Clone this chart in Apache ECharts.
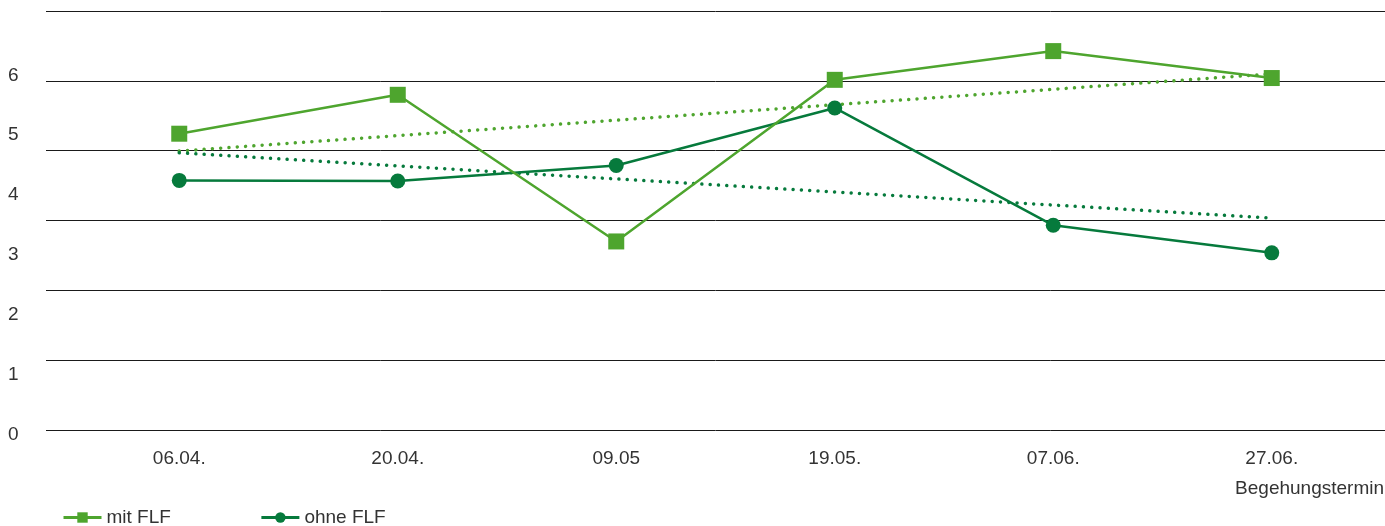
<!DOCTYPE html>
<html>
<head>
<meta charset="utf-8">
<script src="https://cdn.jsdelivr.net/npm/echarts@6/dist/echarts.min.js"></script>
<style>
html,body{margin:0;padding:0;background:#fff;}
#chart{width:1385px;height:526px;}
</style>
</head>
<body>
<div id="chart"></div>
<script>
const categories = ['06.04.', '20.04.', '09.05', '19.05.', '07.06.', '27.06.'];
const mitFLF = [4.95, 5.60, 3.15, 5.85, 6.33, 5.88];
const ohneFLF = [4.17, 4.16, 4.42, 5.38, 3.42, 2.96];
const trendMit = [[0, 4.66], [5, 5.95]];
const trendOhne = [[0, 4.63], [5, 3.54]];
const yLabels = ['0', '1', '2', '3', '4', '5', '6'];
const xAxisTitle = 'Begehungstermin';
const seriesNames = ['mit FLF', 'ohne FLF'];

const LIGHT = '#4ea52e';
const DARK = '#067a3c';
const FONT = '"Liberation Sans", Arial, sans-serif';
const TXT = '#333333';

const chart = echarts.init(document.getElementById('chart'), null, {renderer: 'canvas'});
chart.setOption({
  animation: false,
  backgroundColor: '#ffffff',
  textStyle: {fontFamily: FONT},
  grid: [
    {left: 46, right: 0, top: 11, bottom: 96},
    {left: 70, right: 4, top: 11, bottom: 96}
  ],
  xAxis: [
    {gridIndex: 0, type: 'value', min: 0, max: 1, show: false},
    {
      gridIndex: 1, type: 'category', data: categories, boundaryGap: true,
      axisLine: {show: false}, axisTick: {show: false},
      axisLabel: {color: TXT, fontSize: 19, fontFamily: FONT, margin: 19}
    }
  ],
  yAxis: [
    {
      gridIndex: 0, type: 'value', min: 0, max: 6, interval: 1,
      axisLine: {show: false}, axisTick: {show: false}, axisLabel: {show: false},
      splitLine: {show: true, lineStyle: {color: '#1a1a1a', width: 1}}
    },
    {
      gridIndex: 1, type: 'value', min: 0, max: 7, interval: 1,
      axisLine: {show: false}, axisTick: {show: false},
      splitLine: {show: false},
      axisLabel: {
        color: TXT, fontSize: 19, fontFamily: FONT, margin: 62, align: 'left',
        verticalAlign: 'top', lineHeight: 9,
        formatter: function (v) { return yLabels[v] !== undefined ? yLabels[v] : ''; }
      }
    }
  ],
  legend: {
    data: seriesNames,
    left: 62, top: 508, padding: 0,
    itemWidth: 38, itemHeight: 13, itemGap: 89,
    lineStyle: {width: 3},
    textStyle: {color: TXT, fontSize: 19, fontFamily: FONT}
  },
  graphic: [
    {
      type: 'text', right: 1, top: 479,
      style: {text: xAxisTitle, fill: TXT, fontSize: 19, fontFamily: FONT}
    }
  ],
  series: [
    {
      name: 'Trend mit', type: 'line', xAxisIndex: 1, yAxisIndex: 1,
      data: trendMit, symbol: 'none', silent: true, z: 1,
      lineStyle: {color: LIGHT, width: 3.5, type: [0.01, 8.3], cap: 'round'}
    },
    {
      name: 'Trend ohne', type: 'line', xAxisIndex: 1, yAxisIndex: 1,
      data: trendOhne, symbol: 'none', silent: true, z: 1,
      lineStyle: {color: DARK, width: 3.5, type: [0.01, 8.3], cap: 'round'}
    },
    {
      name: 'ohne FLF', type: 'line', xAxisIndex: 1, yAxisIndex: 1,
      data: ohneFLF, symbol: 'circle', symbolSize: 15, z: 3,
      itemStyle: {color: DARK}, lineStyle: {color: DARK, width: 2.5}
    },
    {
      name: 'mit FLF', type: 'line', xAxisIndex: 1, yAxisIndex: 1,
      data: mitFLF, symbol: 'rect', symbolSize: 16, z: 4,
      itemStyle: {color: LIGHT}, lineStyle: {color: LIGHT, width: 2.5}
    }
  ]
});
</script>
</body>
</html>
